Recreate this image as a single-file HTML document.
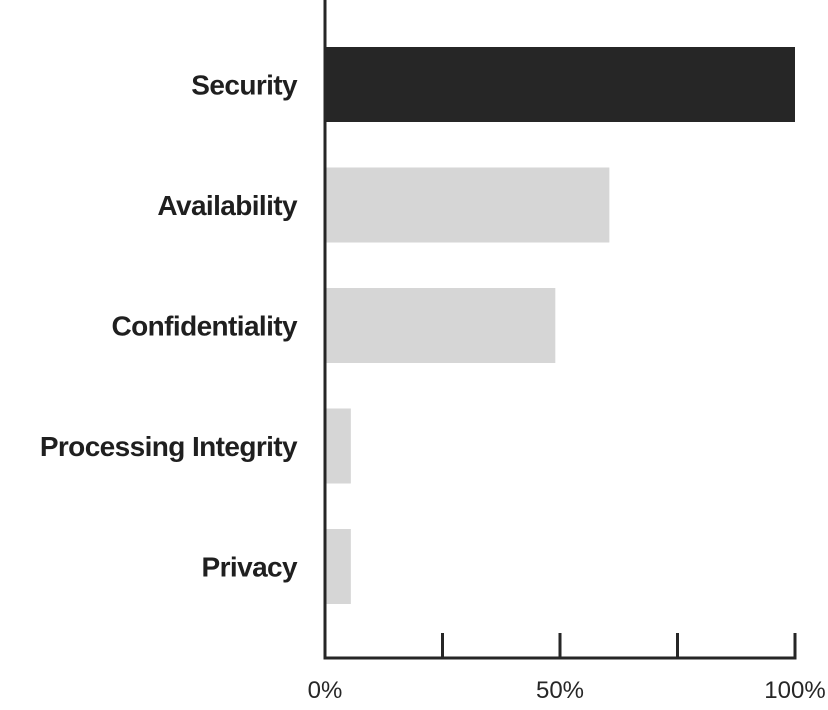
<!DOCTYPE html>
<html><head><meta charset="utf-8"><style>
html,body{margin:0;padding:0;background:#fff;}
svg{display:block;font-family:"Liberation Sans",sans-serif;}
</style></head><body>
<svg id="chart" width="828" height="710" viewBox="0 0 828 710" xmlns="http://www.w3.org/2000/svg"></svg>
<script>
const categories = ["Security","Availability","Confidentiality","Processing Integrity","Privacy"];
const values = [100, 60.5, 49, 5.5, 5.5];
const highlighted = [true, false, false, false, false];
const tickValues = [0, 25, 50, 75, 100];
const tickLabels = ["0%", "", "50%", "", "100%"];

const NS = "http://www.w3.org/2000/svg";
const svg = document.getElementById("chart");
const x0 = 325, x1 = 795;
const xScale = v => x0 + (v / 100) * (x1 - x0);
const bandTop = 47, bandStep = 120.5, barH = 75;
const yScale = i => bandTop + i * bandStep;
const axisY = 658;

function mk(tag, attrs) {
  const el = document.createElementNS(NS, tag);
  for (const k in attrs) el.setAttribute(k, attrs[k]);
  svg.appendChild(el);
  return el;
}

categories.forEach((c, i) => {
  const y = yScale(i);
  const bar = mk("rect", {x: x0 + 1, y: y, width: Math.max(0, xScale(values[i]) - x0 - 1), height: barH, fill: highlighted[i] ? "#262626" : "#d6d6d6"});
  
  
  const t = mk("text", {x: 297, y: y + barH / 2 + 10, "text-anchor": "end", "font-size": "28", "font-weight": "bold", fill: "#1f1f1f", "letter-spacing": "-0.6"});
  t.textContent = c;
  
  
});

const yAxis = mk("line", {x1: x0, y1: 0, x2: x0, y2: axisY + 1.5, stroke: "#262626", "stroke-width": 3});


const xAxis = mk("line", {x1: x0 - 1.5, y1: axisY, x2: x1 + 1.5, y2: axisY, stroke: "#262626", "stroke-width": 3});



tickValues.forEach((v, i) => {
  const x = xScale(v);
  if (v !== 0) {
    const tk = mk("line", {x1: x, y1: 633, x2: x, y2: axisY, stroke: "#262626", "stroke-width": 3});
    
    
  }
  if (tickLabels[i]) {
    const tl = mk("text", {x: x, y: 698, "text-anchor": "middle", "font-size": "24", fill: "#262626"});
    tl.textContent = tickLabels[i];
    
    
  }
});
</script>
</body></html>
